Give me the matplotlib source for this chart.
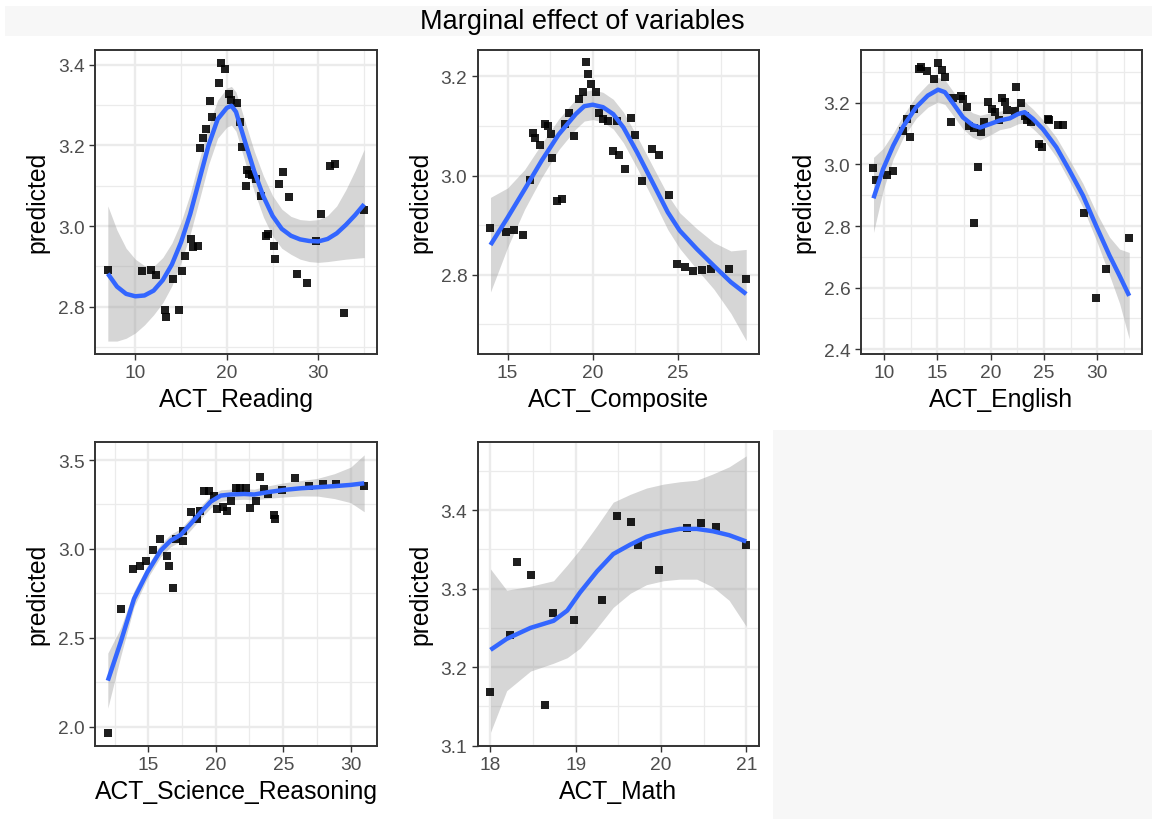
import matplotlib
matplotlib.use("Agg")
import matplotlib.pyplot as plt
from matplotlib.patches import Rectangle
from matplotlib.ticker import MultipleLocator, FuncFormatter

plt.rcParams['font.family'] = ['Liberation Sans', 'DejaVu Sans']

TITLE = "Marginal effect of variables"

# ---------------- ACT_Reading ----------------
read_px = [7, 10.7, 11.7, 12.25, 13.2, 13.35, 14.07, 14.8, 15.1, 15.45, 16.07, 16.3, 16.8, 17.1, 17.4,
           17.75, 18.4, 18.2, 19.1, 19.4, 19.75, 20.2, 20.5, 21.1, 21.4, 21.7, 22.07, 22.25, 22.4, 22.8,
           23.2, 23.75, 24.25, 24.5, 25.1, 25.3, 25.75, 26.1, 26.8, 27.7, 28.7, 29.75, 30.25, 31.27,
           31.8, 32.8, 35]
read_py = [2.89, 2.888, 2.89, 2.879, 2.793, 2.774, 2.869, 2.793, 2.888, 2.927, 2.969, 2.949, 2.95, 3.194,
           3.217, 3.241, 3.271, 3.31, 3.355, 3.403, 3.39, 3.326, 3.312, 3.304, 3.258, 3.197, 3.10, 3.139,
           3.13, 3.126, 3.116, 3.074, 2.975, 2.98, 2.95, 2.919, 3.103, 3.135, 3.073, 2.88, 2.86, 2.963,
           3.029, 3.149, 3.155, 2.785, 3.041]
read_lx = [7, 8, 9, 10, 11, 12, 13, 14, 15, 16, 17, 18, 19, 20, 20.5, 21, 22, 23, 24, 25, 26, 27, 28,
           29, 30, 31, 32, 33, 34, 35]
read_ly = [2.882, 2.85, 2.832, 2.826, 2.828, 2.84, 2.866, 2.905, 2.96, 3.03, 3.115, 3.2, 3.265, 3.293,
           3.298, 3.283, 3.208, 3.135, 3.073, 3.025, 2.993, 2.976, 2.967, 2.963, 2.962, 2.968, 2.982,
           3.003, 3.027, 3.054]
read_lo = [2.715, 2.715, 2.722, 2.735, 2.755, 2.78, 2.81, 2.852, 2.91, 2.98, 3.065, 3.152, 3.218, 3.245,
           3.25, 3.235, 3.158, 3.085, 3.022, 2.975, 2.945, 2.93, 2.918, 2.912, 2.91, 2.912, 2.915, 2.918,
           2.92, 2.922]
read_hi = [3.05, 2.99, 2.945, 2.918, 2.902, 2.9, 2.922, 2.958, 3.01, 3.08, 3.165, 3.248, 3.312, 3.342,
           3.346, 3.332, 3.258, 3.185, 3.124, 3.075, 3.042, 3.024, 3.016, 3.014, 3.016, 3.026, 3.05,
           3.09, 3.137, 3.19]

# ---------------- ACT_Composite ----------------
comp_px = [14, 14.9, 15.35, 15.9, 16.3, 16.5, 16.6, 16.9, 17.2, 17.4, 17.55, 17.6, 17.9, 18.2, 18.4, 18.6,
           18.9, 19.2, 19.4, 19.6, 19.7, 19.9, 20.2, 20.35, 20.6, 20.9, 21.2, 21.55, 21.4, 21.9, 22.25,
           22.45, 22.9, 23.45, 23.9, 24.45, 24.95, 25.4, 25.9, 26.4, 26.95, 27.97, 29]
comp_py = [2.894, 2.887, 2.89, 2.88, 2.992, 3.085, 3.076, 3.062, 3.104, 3.10, 3.083, 3.036, 2.948, 2.952,
           3.104, 3.126, 3.079, 3.155, 3.168, 3.229, 3.205, 3.185, 3.169, 3.126, 3.114, 3.11, 3.05, 3.042,
           3.11, 3.013, 3.116, 3.081, 2.99, 3.054, 3.042, 2.96, 2.822, 2.815, 2.808, 2.81, 2.812, 2.812,
           2.792]
comp_lx = [14, 15, 16, 17, 18, 19, 19.5, 20, 20.6, 21.2, 21.8, 22.6, 23.6, 24.4, 25.1, 26.1, 27.1, 28.1, 29]
comp_ly = [2.86, 2.915, 2.972, 3.03, 3.083, 3.124, 3.14, 3.143, 3.138, 3.124, 3.097, 3.047, 2.98, 2.926,
           2.889, 2.852, 2.818, 2.785, 2.761]
comp_lo = [2.765, 2.855, 2.932, 2.996, 3.052, 3.094, 3.11, 3.113, 3.108, 3.094, 3.066, 3.015, 2.947, 2.891,
           2.853, 2.811, 2.771, 2.722, 2.667]
comp_hi = [2.956, 2.975, 3.012, 3.064, 3.114, 3.154, 3.17, 3.173, 3.168, 3.154, 3.128, 3.079, 3.013, 2.961,
           2.925, 2.893, 2.865, 2.848, 2.851]

# ---------------- ACT_English ----------------
eng_px = [9, 9.2, 10.3, 10.8, 11.8, 12.1, 12.4, 12.8, 13.25, 13.5, 14.0, 14.7, 15.1, 15.4, 15.75, 16.25,
          16.5, 17.25, 17.4, 17.8, 18.0, 18.4, 18.4, 18.8, 19.1, 19.4, 19.75, 20.1, 20.4, 20.8, 21.1, 21.3,
          21.5, 22.25, 22.35, 22.8, 23.2, 23.45, 23.8, 24.5, 24.85, 25.4, 25.5, 26.3, 26.8, 28.75, 29.85,
          30.8, 33]
eng_py = [2.988, 2.95, 2.966, 2.98, 3.11, 3.148, 3.088, 3.18, 3.31, 3.316, 3.305, 3.278, 3.33, 3.308, 3.283,
          3.137, 3.215, 3.222, 3.213, 3.186, 3.124, 3.118, 2.809, 2.993, 3.105, 3.139, 3.202, 3.18, 3.17,
          3.143, 3.215, 3.202, 3.177, 3.175, 3.251, 3.2, 3.159, 3.143, 3.137, 3.067, 3.056, 3.148, 3.145,
          3.128, 3.128, 2.841, 2.565, 2.66, 2.76]
eng_lx = [9, 9.9, 10.85, 11.8, 13, 14.1, 15.06, 15.7, 16.5, 17.4, 18.3, 19, 19.9, 20.84, 21.8, 22.56, 23.19,
          23.97, 24.9, 26.16, 27.4, 28.66, 29.9, 31.15, 32.1, 33]
eng_ly = [2.89, 2.985, 3.061, 3.124, 3.186, 3.224, 3.243, 3.235, 3.197, 3.153, 3.128, 3.12, 3.131, 3.143,
          3.15, 3.164, 3.17, 3.148, 3.115, 3.056, 2.98, 2.899, 2.8, 2.704, 2.638, 2.573]
eng_lo = [2.779, 2.915, 3.018, 3.088, 3.15, 3.186, 3.203, 3.195, 3.158, 3.115, 3.088, 3.08, 3.095, 3.113,
          3.12, 3.132, 3.136, 3.116, 3.085, 3.024, 2.945, 2.86, 2.755, 2.64, 2.548, 2.433]
eng_hi = [3.023, 3.052, 3.102, 3.16, 3.222, 3.262, 3.283, 3.275, 3.236, 3.191, 3.168, 3.16, 3.167, 3.173,
          3.18, 3.196, 3.204, 3.18, 3.145, 3.088, 3.015, 2.938, 2.845, 2.764, 2.725, 2.714]

# ---------------- ACT_Science_Reasoning ----------------
sci_px = [12, 13, 13.86, 14.36, 14.85, 15.35, 15.87, 16.36, 16.53, 16.86, 17.03, 17.6, 17.6, 18.14, 18.6,
          18.84, 19.13, 19.5, 19.88, 20.12, 20.57, 20.87, 21.16, 21.49, 21.8, 22.23, 22.55, 22.97, 23.29,
          23.6, 23.84, 24.28, 24.38, 24.9, 25.9, 26.93, 27.92, 28.9, 31]
sci_py = [1.965, 2.662, 2.888, 2.906, 2.93, 2.996, 3.056, 2.962, 2.906, 2.779, 3.056, 3.047, 3.103, 3.206,
          3.169, 3.216, 3.328, 3.323, 3.30, 3.225, 3.234, 3.216, 3.272, 3.341, 3.341, 3.341, 3.229, 3.272,
          3.403, 3.338, 3.309, 3.191, 3.169, 3.332, 3.398, 3.353, 3.366, 3.366, 3.353]
sci_lx = [12, 12.95, 13.94, 14.93, 15.92, 16.66, 17.4, 18.14, 18.89, 19.63, 20.37, 21.1, 22.1, 22.85,
          23.84, 25.07, 26.3, 27.55, 28.79, 30, 31]
sci_ly = [2.259, 2.475, 2.719, 2.869, 2.991, 3.047, 3.079, 3.141, 3.206, 3.266, 3.30, 3.306, 3.309, 3.306,
          3.319, 3.332, 3.341, 3.347, 3.353, 3.36, 3.369]
sci_lo = [2.104, 2.395, 2.674, 2.834, 2.956, 3.012, 3.044, 3.106, 3.171, 3.231, 3.268, 3.276, 3.279, 3.276,
          3.284, 3.292, 3.298, 3.297, 3.283, 3.26, 3.209]
sci_hi = [2.414, 2.555, 2.764, 2.904, 3.026, 3.082, 3.114, 3.176, 3.241, 3.301, 3.332, 3.336, 3.339, 3.336,
          3.354, 3.372, 3.384, 3.397, 3.423, 3.46, 3.529]

# ---------------- ACT_Math ----------------
math_px = [18.0, 18.23, 18.31, 18.48, 18.64, 18.73, 18.98, 19.31, 19.48, 19.65, 19.73, 19.98, 20.31, 20.47,
           20.64, 21.0]
math_py = [3.168, 3.241, 3.334, 3.317, 3.152, 3.269, 3.26, 3.286, 3.392, 3.385, 3.356, 3.324, 3.377, 3.383,
           3.378, 3.356]
math_lx = [18.0, 18.19, 18.47, 18.74, 18.9, 19.05, 19.25, 19.44, 19.64, 19.83, 20.03, 20.22, 20.42, 20.61,
           20.8, 21.0]
math_ly = [3.222, 3.236, 3.25, 3.259, 3.272, 3.295, 3.322, 3.344, 3.356, 3.366, 3.372, 3.376, 3.376, 3.373,
           3.368, 3.36]
math_lo = [3.117, 3.17, 3.195, 3.205, 3.212, 3.224, 3.25, 3.276, 3.294, 3.305, 3.31, 3.312, 3.312, 3.302,
           3.285, 3.252]
math_hi = [3.325, 3.298, 3.303, 3.31, 3.33, 3.35, 3.38, 3.41, 3.42, 3.428, 3.433, 3.436, 3.438, 3.446,
           3.455, 3.469]

# ---------------- Figure ----------------
W, H = 1152, 820
fig = plt.figure(figsize=(W / 100, H / 100), dpi=100)
fig.patch.set_facecolor('white')

def px_rect(x0, y0, x1, y1, color):
    fig.patches.append(Rectangle((x0 / W, 1 - y1 / H), (x1 - x0) / W, (y1 - y0) / H,
                                 transform=fig.transFigure, facecolor=color, edgecolor='none', zorder=0))

BG = '#F7F7F7'
px_rect(5, 7, W, 37, BG)
px_rect(773, 431, W, H, BG)
fig.text(582 / W, 1 - 22 / H, TITLE, ha='center', va='center', fontsize=19.5, color='black')

def add_axes(l, t, r, b):
    return fig.add_axes([l / W, 1 - b / H, (r - l) / W, (b - t) / H])

panels = [
    dict(box=(95, 50.7, 377, 355), px=read_px, py=read_py, lx=read_lx, ly=read_ly, lo=read_lo, hi=read_hi,
         xlim=(5.6, 36.4), ylim=(2.683, 3.437), xmaj=10, xmin=5, ymaj=0.2, ymin=0.1, xlabel='ACT_Reading'),
    dict(box=(477.7, 50.7, 759, 355), px=comp_px, py=comp_py, lx=comp_lx, ly=comp_ly, lo=comp_lo, hi=comp_hi,
         xlim=(13.25, 29.75), ylim=(2.64, 3.254), xmaj=5, xmin=2.5, ymaj=0.2, ymin=0.1, xlabel='ACT_Composite'),
    dict(box=(860.7, 50.7, 1142, 355), px=eng_px, py=eng_py, lx=eng_lx, ly=eng_ly, lo=eng_lo, hi=eng_hi,
         xlim=(7.8, 34.2), ylim=(2.384, 3.373), xmaj=5, xmin=2.5, ymaj=0.2, ymin=0.1, xlabel='ACT_English'),
    dict(box=(95, 442.7, 377, 746.7), px=sci_px, py=sci_py, lx=sci_lx, ly=sci_ly, lo=sci_lo, hi=sci_hi,
         xlim=(11.05, 31.95), ylim=(1.893, 3.603), xmaj=5, xmin=2.5, ymaj=0.5, ymin=0.25,
         xlabel='ACT_Science_Reasoning'),
    dict(box=(477.7, 442.7, 759, 746.7), px=math_px, py=math_py, lx=math_lx, ly=math_ly, lo=math_lo, hi=math_hi,
         xlim=(17.85, 21.15), ylim=(3.1, 3.487), xmaj=1, xmin=0.5, ymaj=0.1, ymin=0.05, xlabel='ACT_Math'),
]

for p in panels:
    ax = add_axes(*p['box'])
    ax.set_facecolor('white')
    ax.fill_between(p['lx'], p['lo'], p['hi'], color='#999999', alpha=0.4, linewidth=0, zorder=2)
    ax.scatter(p['px'], p['py'], marker='s', s=36, color='black', alpha=0.88, linewidths=0, zorder=3)
    ax.plot(p['lx'], p['ly'], color='#3366FF', linewidth=3.2, solid_capstyle='butt', zorder=4)
    ax.set_xlim(*p['xlim'])
    ax.set_ylim(*p['ylim'])
    ax.xaxis.set_major_locator(MultipleLocator(p['xmaj']))
    ax.xaxis.set_minor_locator(MultipleLocator(p['xmin']))
    ax.yaxis.set_major_locator(MultipleLocator(p['ymaj']))
    ax.yaxis.set_minor_locator(MultipleLocator(p['ymin']))
    ax.yaxis.set_major_formatter(FuncFormatter(lambda v, pos: '{:.1f}'.format(v)))
    ax.xaxis.set_major_formatter(FuncFormatter(lambda v, pos: '{:g}'.format(round(v, 6))))
    ax.grid(which='major', color='#EBEBEB', linewidth=1.7, zorder=0)
    ax.grid(which='minor', color='#EBEBEB', linewidth=0.9, zorder=0)
    ax.set_axisbelow(True)
    for s in ax.spines.values():
        s.set_color('#333333')
        s.set_linewidth(1.4)
    ax.tick_params(which='major', direction='out', length=4.5, width=1.0, color='#333333',
                   labelsize=13.8, labelcolor='#4D4D4D', pad=3)
    ax.tick_params(which='minor', length=0)
    ax.set_xlabel(p['xlabel'], fontsize=17.8, color='black', labelpad=4)
    ax.set_ylabel('predicted', fontsize=17.8, color='black', labelpad=6)

fig.savefig('out.png', dpi=100, facecolor='white')
